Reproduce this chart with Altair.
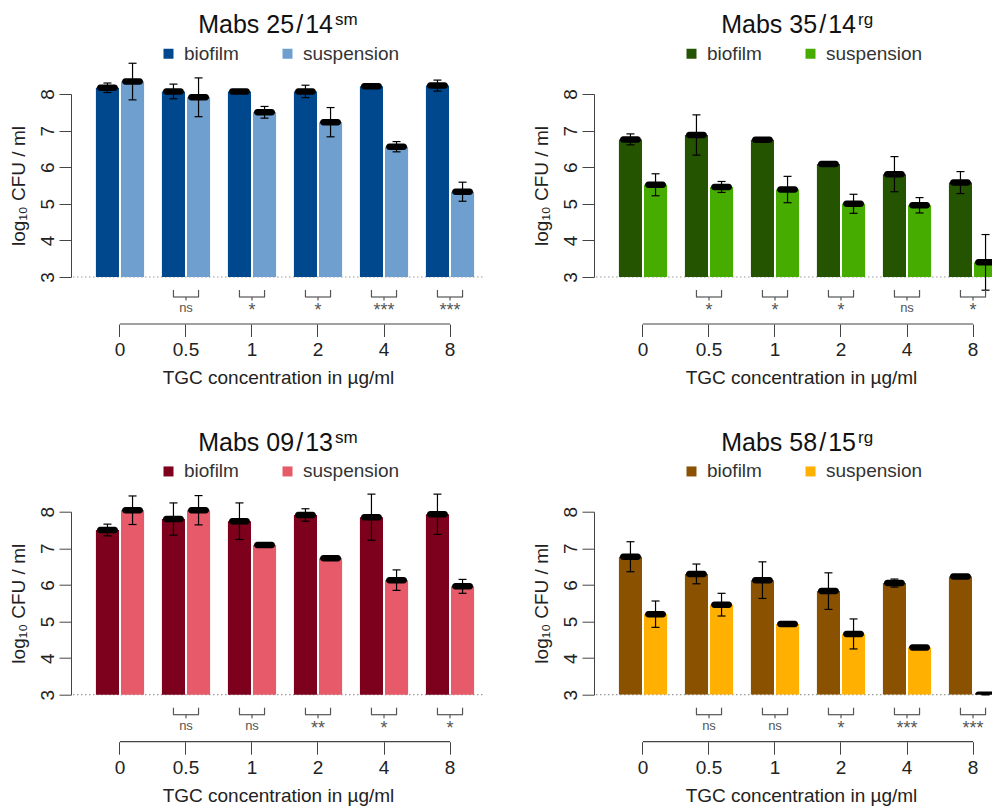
import altair as alt
import pandas as pd

# Tigecycline concentrations (µg/ml) and the two growth conditions
CONC = ["0", "0.5", "1", "2", "4", "8"]
TYPES = ["biofilm", "suspension"]

# Panel titles (isolate) and morphotype superscripts
TITLES = ["Mabs 25\u200a/\u200a14", "Mabs 35\u200a/\u200a14",
          "Mabs 09\u200a/\u200a13", "Mabs 58\u200a/\u200a15"]
MORPHO = ["sm", "rg", "sm", "rg"]

# Colours per panel: biofilm, suspension
COLORS = [["#00488d", "#6f9fcf"],
          ["#245400", "#46ad00"],
          ["#7d001c", "#e65a6a"],
          ["#8a5200", "#ffb000"]]

# log10 CFU/ml, mean and error per concentration
BIO_MEAN = [[8.17, 8.07, 8.07, 8.07, 8.21, 8.23],
            [6.76, 6.88, 6.75, 6.09, 5.81, 5.58],
            [7.50, 7.80, 7.74, 7.91, 7.85, 7.93],
            [6.77, 6.30, 6.13, 5.83, 6.05, 6.23]]
BIO_ERR = [[0.13, 0.20, 0.05, 0.17, 0.05, 0.15],
           [0.15, 0.55, 0.04, 0.04, 0.48, 0.30],
           [0.16, 0.44, 0.50, 0.17, 0.63, 0.55],
           [0.41, 0.27, 0.50, 0.50, 0.11, 0.03]]
SUS_MEAN = [[8.34, 7.91, 7.50, 7.23, 6.56, 5.33],
            [5.52, 5.46, 5.39, 5.00, 4.96, 3.40],
            [8.04, 8.04, 7.09, 6.73, 6.13, 5.96],
            [5.20, 5.46, 4.93, 4.66, 4.29, 3.00]]
SUS_ERR = [[0.50, 0.53, 0.16, 0.40, 0.14, 0.26],
           [0.30, 0.15, 0.36, 0.26, 0.21, 0.76],
           [0.39, 0.40, 0.04, 0.04, 0.28, 0.19],
           [0.36, 0.31, 0.03, 0.41, 0.03, 0.00]]

# Significance of biofilm vs suspension per concentration
SIG = [["", "ns", "*", "*", "***", "***"],
       ["", "*", "*", "*", "ns", "*"],
       ["", "ns", "ns", "**", "*", "*"],
       ["", "ns", "ns", "*", "***", "***"]]

FONT = "Liberation Sans"
H = 183          # plot height (3 .. 8)
RANGE_W = 410    # pixel extent of the concentration scale
GREY = "#444444"
PAGE_W, PAGE_H = 992, 808
LEFT, TOP = 73, 94   # origin of the first panel's plot area


def panel(i, width, clip):
    df = pd.DataFrame({
        "conc": CONC * 2,
        "type": [TYPES[0]] * 6 + [TYPES[1]] * 6,
        "mean": BIO_MEAN[i] + SUS_MEAN[i],
        "err": BIO_ERR[i] + SUS_ERR[i],
    })
    sig = pd.DataFrame({"conc": CONC, "label": SIG[i]})
    sig = sig[sig["label"] != ""]
    pairs = df[df["conc"] != "0"]
    ticks = pd.DataFrame({"conc": CONC})
    head = pd.DataFrame({"title": [TITLES[i]], "sup": [MORPHO[i]]})
    one = pd.DataFrame({"v": [3]})

    x_axis = alt.Axis(title="TGC concentration in µg/ml", offset=47, domain=False,
                      tickSize=12.5, tickColor=GREY, labelAngle=0, labelPadding=4,
                      labelFontSize=19, labelColor="#222222", titleFontSize=19,
                      titleFontWeight="normal", titleColor="#222222", titlePadding=9,
                      grid=False)
    y_axis = alt.Axis(title="log\u2081\u2080 CFU / ml", values=[3, 4, 5, 6, 7, 8], offset=2,
                      tickSize=12, tickColor=GREY, domainColor=GREY, labelAngle=270,
                      labelAlign="center", labelBaseline="bottom", labelPadding=2,
                      labelFontSize=19, labelColor="#222222", titleFontSize=19,
                      titleFontWeight="normal", titleColor="#222222", titlePadding=9.5,
                      grid=False)

    x = alt.X("conc:N", sort=CONC,
              scale=alt.Scale(domain=CONC, range=[0, RANGE_W], paddingInner=0.27,
                              paddingOuter=0.241, align=0.72),
              axis=x_axis)
    xo = alt.XOffset("type:N", sort=TYPES,
                     scale=alt.Scale(domain=TYPES, paddingInner=0.08, paddingOuter=0))
    yscale = alt.Scale(domain=[3, 8], nice=False, zero=False)

    def y(field):
        return alt.Y(field, scale=yscale, axis=y_axis)

    baseline = alt.Chart(one).mark_rule(color="#9a9a9a", strokeDash=[1.5, 2.5], strokeWidth=1.2).encode(
        x=alt.value(0), x2=alt.value(width), y=alt.Y("v:Q", scale=yscale, axis=y_axis))

    bars = alt.Chart(df).mark_bar(clip=clip).encode(
        x=x, xOffset=xo, y=y("mean:Q"), y2=alt.datum(3),
        color=alt.Color("type:N", sort=TYPES,
                        scale=alt.Scale(domain=TYPES, range=COLORS[i]),
                        legend=alt.Legend(orient="none", legendX=86, legendY=-50,
                                          direction="horizontal", title=None,
                                          symbolType="square", symbolSize=100,
                                          symbolStrokeWidth=0, symbolOpacity=1,
                                          labelFontSize=19, labelOffset=6,
                                          columnPadding=39, padding=0,
                                          labelColor="#333333")))

    err = alt.Chart(df).transform_calculate(
        lo="datum.mean - datum.err", hi="datum.mean + datum.err")
    err_line = err.mark_rule(color="black", strokeWidth=1.2).encode(
        x=x, xOffset=xo, y=y("lo:Q"), y2="hi:Q")
    err_caps = err.transform_fold(["lo", "hi"], as_=["end", "val"]).mark_tick(
        orient="horizontal", size=8, thickness=1.2, color="black", opacity=1).encode(
        x=x, xOffset=xo, y=y("val:Q"))
    marker = alt.Chart(df).mark_tick(orient="horizontal", size=21, thickness=6.5,
                                     cornerRadius=3.25, color="black", opacity=1,
                                     clip=clip).encode(
        x=x, xOffset=xo, y=y("mean:Q"))

    br_ends = alt.Chart(pairs).mark_rule(color="#555555", strokeWidth=1.2).encode(
        x=x, xOffset=xo, y=alt.value(H + 13), y2=alt.value(H + 20))
    br_bar = alt.Chart(sig).mark_tick(orient="horizontal", size=26, thickness=1.2,
                                      color="#555555", opacity=1).encode(
        x=x, y=alt.value(H + 20))
    br_mid = alt.Chart(sig).mark_rule(color="#555555", strokeWidth=1.2).encode(
        x=x, y=alt.value(H + 20), y2=alt.value(H + 23.5))
    sig_ns = alt.Chart(sig).transform_filter("datum.label == 'ns'").mark_text(
        fontSize=13, color="#555555", baseline="middle").encode(
        x=x, y=alt.value(H + 31), text="label:N")
    sig_star = alt.Chart(sig).transform_filter("datum.label != 'ns'").mark_text(
        fontSize=18, color="#555555", baseline="middle").encode(
        x=x, y=alt.value(H + 34), text="label:N")

    axis_line = alt.Chart(ticks).mark_line(color=GREY, strokeWidth=1.2).encode(
        x=x, y=alt.value(H + 47))

    title = alt.Chart(head).mark_text(fontSize=25, align="right", baseline="alphabetic",
                                      color="#111111").encode(
        x=alt.value(260), y=alt.value(-61), text="title:N")
    sup = alt.Chart(head).mark_text(fontSize=17, align="left", baseline="alphabetic",
                                    color="#111111").encode(
        x=alt.value(262), y=alt.value(-69), text="sup:N")

    return alt.layer(baseline, bars, err_line, err_caps, marker, br_ends, br_bar,
                     br_mid, sig_ns, sig_star, axis_line, title, sup).properties(
        width=width, height=H)


chart = alt.concat(
    panel(0, 410, False), panel(1, 396, True),
    panel(2, 410, False), panel(3, 396, True),
    columns=2, spacing={"row": 234.7, "column": 113}, bounds="flush",
).resolve_scale(
    color="independent", x="independent", y="independent"
).properties(
    autosize=alt.AutoSizeParams(type="none"),
    padding={"left": LEFT, "top": TOP, "right": PAGE_W - LEFT, "bottom": PAGE_H - TOP},
    background="white",
).configure(font=FONT).configure_view(stroke=None)

chart.save("out.html", embed_options={"renderer": "svg", "actions": False})
